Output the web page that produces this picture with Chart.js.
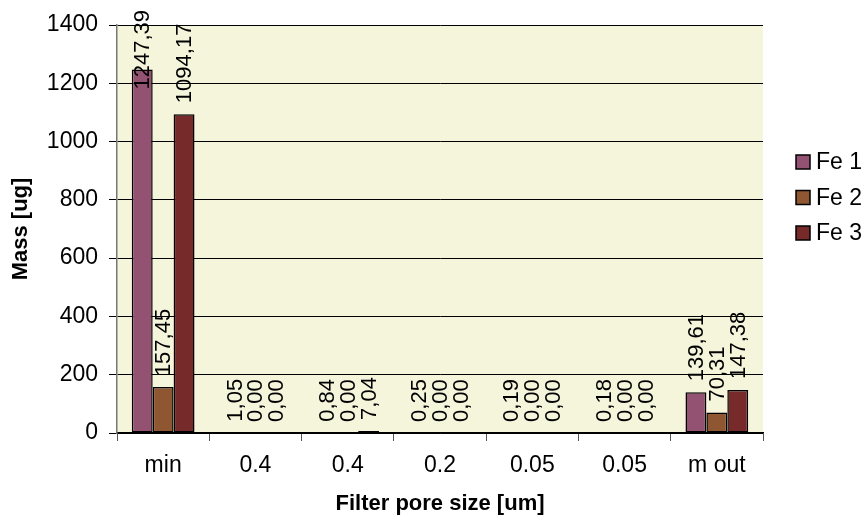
<!DOCTYPE html>
<html>
<head>
<meta charset="utf-8">
<script src="https://cdn.jsdelivr.net/npm/chart.js@4.4.1/dist/chart.umd.min.js"></script>
<style>
  html, body { margin: 0; padding: 0; background: #ffffff; }
  #wrap { width: 867px; height: 522px; position: relative; }
</style>
</head>
<body>
<div id="wrap"><canvas id="massChart"></canvas></div>
<script>
// chart data
const categories = ["min", "0.4", "0.4", "0.2", "0.05", "0.05", "m out"];
const fe1 = [1247.39, 1.05, 0.84, 0.25, 0.19, 0.18, 139.61];
const fe2 = [157.45, 0.00, 0.00, 0.00, 0.00, 0.00, 70.31];
const fe3 = [1094.17, 0.00, 7.04, 0.00, 0.00, 0.00, 147.38];
const seriesNames = ["Fe 1", "Fe 2", "Fe 3"];
const seriesColors = ["#945273", "#8e5631", "#762a2a"];
const yTicks = [0, 200, 400, 600, 800, 1000, 1200, 1400];

const FONT = "'Liberation Sans', Arial, sans-serif";

// light yellow plot background
const plotBackground = {
  id: "plotBackground",
  beforeDraw(chart) {
    const { ctx, chartArea } = chart;
    ctx.save();
    ctx.fillStyle = "#f5f5dc";
    ctx.fillRect(chartArea.left, chartArea.top, chartArea.right - chartArea.left, chartArea.bottom - chartArea.top);
    ctx.restore();
  }
};

// vertical value labels above each bar, kept inside the canvas
const barLabels = {
  id: "barLabels",
  afterDatasetsDraw(chart) {
    const ctx = chart.ctx;
    ctx.save();
    ctx.font = "22px " + FONT;
    ctx.fillStyle = "#000000";
    ctx.textAlign = "left";
    ctx.textBaseline = "middle";
    chart.data.datasets.forEach((ds, i) => {
      const meta = chart.getDatasetMeta(i);
      meta.data.forEach((bar, j) => {
        const txt = ds.data[j].toFixed(2).replace(".", ",");
        const w = ctx.measureText(txt).width;
        let y = bar.y - 11;
        if (y - w < 10) y = 10 + w;
        ctx.save();
        ctx.translate(bar.x + 1, y);
        ctx.rotate(-Math.PI / 2);
        ctx.fillText(txt, 0, 0);
        ctx.restore();
      });
    });
    ctx.restore();
  }
};

// legend at the right side
const sideLegend = {
  id: "sideLegend",
  afterDraw(chart) {
    const ctx = chart.ctx;
    ctx.save();
    ctx.font = "23px " + FONT;
    ctx.textBaseline = "middle";
    ctx.textAlign = "left";
    chart.data.datasets.forEach((ds, i) => {
      const cy = 162 + i * 35.5;
      ctx.fillStyle = ds.backgroundColor;
      ctx.fillRect(796, cy - 7, 14, 14);
      ctx.strokeStyle = "#000000";
      ctx.lineWidth = 1.5;
      ctx.strokeRect(796, cy - 7, 14, 14);
      ctx.fillStyle = "#000000";
      ctx.fillText(ds.label, 816, cy + 1);
    });
    ctx.restore();
  }
};

const ctx = document.getElementById("massChart").getContext("2d");

new Chart(ctx, {
  type: "bar",
  data: {
    labels: categories,
    datasets: [fe1, fe2, fe3].map((vals, i) => ({
      label: seriesNames[i],
      data: vals,
      backgroundColor: seriesColors[i],
      borderColor: "#000000",
      borderWidth: 1.5,
      borderSkipped: false,
      categoryPercentage: 0.68,
      barPercentage: 1.0
    }))
  },
  options: {
    responsive: true,
    maintainAspectRatio: false,
    animation: false,
    devicePixelRatio: 1,
    layout: { padding: { top: 25, right: 104, left: 0, bottom: 0 } },
    plugins: {
      legend: { display: false },
      tooltip: { enabled: false }
    },
    scales: {
      x: {
        grid: {
          offset: true,
          drawOnChartArea: false,
          color: "#555555",
          tickLength: 8,
          lineWidth: 1
        },
        border: { color: "#000000", width: 1.5 },
        ticks: {
          color: "#000000",
          font: { family: FONT, size: 23 },
          padding: 11,
          maxRotation: 0
        },
        title: {
          display: true,
          text: "Filter pore size [um]",
          color: "#000000",
          font: { family: FONT, size: 22, weight: "bold" },
          padding: { top: 0, bottom: 5 }
        },
        afterFit(scale) { scale.height = 89; }
      },
      y: {
        min: 0,
        max: 1400,
        afterBuildTicks(scale) { scale.ticks = yTicks.map(v => ({ value: v })); },
        grid: {
          color: "#000000",
          lineWidth: 1,
          tickLength: 8,
          drawTicks: true
        },
        border: { color: "#777777", width: 1.5 },
        ticks: {
          color: "#000000",
          font: { family: FONT, size: 23 },
          padding: 11,
          callback: v => String(v)
        },
        title: {
          display: true,
          text: "Mass [ug]",
          color: "#000000",
          font: { family: FONT, size: 22, weight: "bold" },
          padding: { top: 8, bottom: 0 }
        },
        afterFit(scale) { scale.width = 117; }
      }
    }
  },
  plugins: [plotBackground, barLabels, sideLegend]
});
</script>
</body>
</html>
